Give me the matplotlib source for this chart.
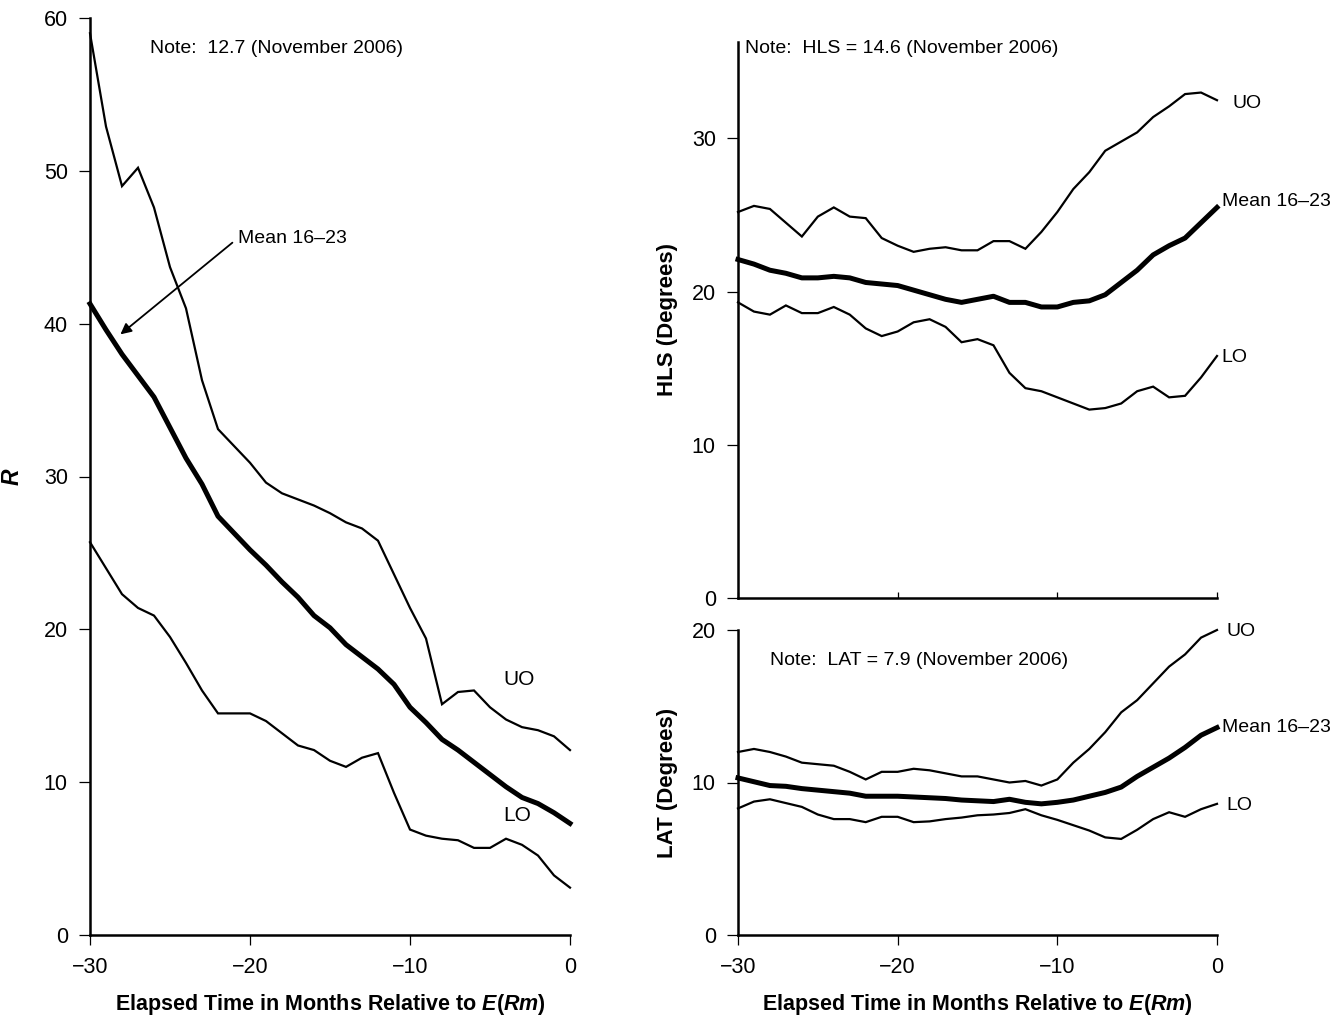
import numpy as np
import matplotlib
matplotlib.use('Agg')
import matplotlib.pyplot as plt

plt.rcParams['font.family'] = ['Liberation Sans', 'DejaVu Sans']
plt.rcParams['mathtext.fontset'] = 'custom'
plt.rcParams['mathtext.it'] = 'Liberation Sans:italic:bold'
plt.rcParams['mathtext.rm'] = 'Liberation Sans:bold'
FONTSIZE = 14
TICKSIZE = 15.5
LABELSIZE = 15.5

# ---------------- data ----------------
months = np.arange(-30, 1)

r_uo = [59.0, 52.9, 49.0, 50.2, 47.6, 43.7, 41.0, 36.3, 33.1, 32.0, 30.9,
        29.6, 28.9, 28.5, 28.1, 27.6, 27.0, 26.6, 25.8, 23.6, 21.4, 19.4,
        15.1, 15.9, 16.0, 14.9, 14.1, 13.6, 13.4, 13.0, 12.1]
r_mean = [41.3, 39.6, 38.0, 36.6, 35.2, 33.2, 31.2, 29.5, 27.4, 26.3, 25.2,
          24.2, 23.1, 22.1, 20.9, 20.1, 19.0, 18.2, 17.4, 16.4, 14.9, 13.9,
          12.8, 12.1, 11.3, 10.5, 9.7, 9.0, 8.6, 8.0, 7.3]
r_lo = [25.7, 24.0, 22.3, 21.4, 20.9, 19.5, 17.8, 16.0, 14.5, 14.5, 14.5,
        14.0, 13.2, 12.4, 12.1, 11.4, 11.0, 11.6, 11.9, 9.3, 6.9, 6.5,
        6.3, 6.2, 5.7, 5.7, 6.3, 5.9, 5.2, 3.9, 3.1]

hls_uo = [25.2, 25.6, 25.4, 24.5, 23.6, 24.9, 25.5, 24.9, 24.8, 23.5, 23.0,
          22.6, 22.8, 22.9, 22.7, 22.7, 23.3, 23.3, 22.8, 23.9, 25.2, 26.7,
          27.8, 29.2, 29.8, 30.4, 31.4, 32.1, 32.9, 33.0, 32.5]
hls_mean = [22.1, 21.8, 21.4, 21.2, 20.9, 20.9, 21.0, 20.9, 20.6, 20.5, 20.4,
            20.1, 19.8, 19.5, 19.3, 19.5, 19.7, 19.3, 19.3, 19.0, 19.0, 19.3,
            19.4, 19.8, 20.6, 21.4, 22.4, 23.0, 23.5, 24.5, 25.5]
hls_lo = [19.3, 18.7, 18.5, 19.1, 18.6, 18.6, 19.0, 18.5, 17.6, 17.1, 17.4,
          18.0, 18.2, 17.7, 16.7, 16.9, 16.5, 14.7, 13.7, 13.5, 13.1, 12.7,
          12.3, 12.4, 12.7, 13.5, 13.8, 13.1, 13.2, 14.4, 15.8]

lat_uo = [12.0, 12.2, 12.0, 11.7, 11.3, 11.2, 11.1, 10.7, 10.2, 10.7, 10.7,
          10.9, 10.8, 10.6, 10.4, 10.4, 10.2, 10.0, 10.1, 9.8, 10.2, 11.3,
          12.2, 13.3, 14.6, 15.4, 16.5, 17.6, 18.4, 19.5, 20.0]
lat_mean = [10.3, 10.05, 9.8, 9.75, 9.6, 9.5, 9.4, 9.3, 9.1, 9.1, 9.1,
            9.05, 9.0, 8.95, 8.85, 8.8, 8.75, 8.9, 8.7, 8.6, 8.7, 8.85,
            9.1, 9.35, 9.7, 10.4, 11.0, 11.6, 12.3, 13.1, 13.6]
lat_lo = [8.3, 8.75, 8.9, 8.65, 8.4, 7.9, 7.6, 7.6, 7.4, 7.75, 7.75,
          7.4, 7.45, 7.6, 7.7, 7.85, 7.9, 8.0, 8.25, 7.85, 7.55, 7.2,
          6.85, 6.4, 6.3, 6.9, 7.6, 8.05, 7.75, 8.25, 8.6]

xticks = [-30, -20, -10, 0]
xlabel = r'Elapsed Time in Months Relative to $E$($Rm$)'


def style_axes(ax, xdir='out', xlabels=True):
    for side in ['top', 'right']:
        ax.spines[side].set_visible(False)
    for side in ['left', 'bottom']:
        ax.spines[side].set_linewidth(1.8)
    ax.set_xlim(-30, 0)
    ax.set_xticks(xticks)
    ax.tick_params(axis='y', direction='out', length=8, width=0.9,
                   pad=8, labelsize=TICKSIZE)
    ax.tick_params(axis='x', direction=xdir, length=7 if xdir == 'out' else 4,
                   width=0.9, pad=9, labelsize=TICKSIZE,
                   labelbottom=xlabels)


def plot_band(ax, uo, mean, lo):
    ax.plot(months, uo, color='black', lw=1.6, solid_joinstyle='miter', clip_on=False)
    ax.plot(months, mean, color='black', lw=3.6, clip_on=False)
    ax.plot(months, lo, color='black', lw=1.6, solid_joinstyle='miter', clip_on=False)


fig = plt.figure(figsize=(13.43, 10.18), dpi=100)

# ---------------- left: R ----------------
ax1 = fig.add_axes([90 / 1343, 83 / 1018, 480 / 1343, 917 / 1018])
plot_band(ax1, r_uo, r_mean, r_lo)
style_axes(ax1)
ax1.set_ylim(0, 60)
ax1.set_yticks(np.arange(0, 61, 10))
ax1.set_ylabel(r'$R$', fontsize=LABELSIZE + 1)
ax1.yaxis.set_label_coords(-0.137, 0.5)
ax1.set_xlabel(xlabel, fontsize=LABELSIZE, fontweight='bold')
ax1.xaxis.set_label_coords(0.5, -0.0625)
ax1.text(-26.25, 58.0, 'Note:  12.7 (November 2006)', fontsize=FONTSIZE, va='center')
ax1.text(-20.75, 45.6, 'Mean 16\u201323', fontsize=FONTSIZE, va='center', ha='left')
ax1.annotate('', xy=(-28.1, 39.3), xytext=(-21.1, 45.3),
             arrowprops=dict(arrowstyle='-|>', color='black', lw=1.3,
                             mutation_scale=16, shrinkA=0, shrinkB=0))
ax1.text(-3.2, 16.7, 'UO', fontsize=FONTSIZE + 1, va='center', ha='center')
ax1.text(-3.3, 7.85, 'LO', fontsize=FONTSIZE + 1, va='center', ha='center')

# ---------------- right top: HLS ----------------
ax2 = fig.add_axes([738 / 1343, 420 / 1018, 479 / 1343, 556 / 1018])
plot_band(ax2, hls_uo, hls_mean, hls_lo)
style_axes(ax2, xdir='in', xlabels=False)
ax2.set_ylim(0, 36.3)
ax2.set_yticks([0, 10, 20, 30])
ax2.set_ylabel('HLS (Degrees)', fontsize=LABELSIZE + 0.5, fontweight='bold')
ax2.yaxis.set_label_coords(-0.125, 0.5)
ax2.text(-29.55, 35.9, 'Note:  HLS = 14.6 (November 2006)', fontsize=FONTSIZE, va='center')
ax2.text(1.0, 32.3, 'UO', fontsize=FONTSIZE, va='center')
ax2.text(0.3, 25.9, 'Mean 16\u201323', fontsize=FONTSIZE, va='center')
ax2.text(0.3, 15.7, 'LO', fontsize=FONTSIZE, va='center')

# ---------------- right bottom: LAT ----------------
ax3 = fig.add_axes([738 / 1343, 83 / 1018, 479 / 1343, 305 / 1018])
plot_band(ax3, lat_uo, lat_mean, lat_lo)
style_axes(ax3)
ax3.set_ylim(0, 20)
ax3.set_yticks([0, 10, 20])
ax3.set_ylabel('LAT (Degrees)', fontsize=LABELSIZE + 0.5, fontweight='bold')
ax3.yaxis.set_label_coords(-0.125, 0.5)
ax3.set_xlabel(xlabel, fontsize=LABELSIZE, fontweight='bold')
ax3.xaxis.set_label_coords(0.5, -0.188)
ax3.text(-28.0, 18.0, 'Note:  LAT = 7.9 (November 2006)', fontsize=FONTSIZE, va='center')
ax3.text(0.6, 19.9, 'UO', fontsize=FONTSIZE, va='center')
ax3.text(0.3, 13.6, 'Mean 16\u201323', fontsize=FONTSIZE, va='center')
ax3.text(0.6, 8.5, 'LO', fontsize=FONTSIZE, va='center')

fig.savefig('out.png', dpi=100)
